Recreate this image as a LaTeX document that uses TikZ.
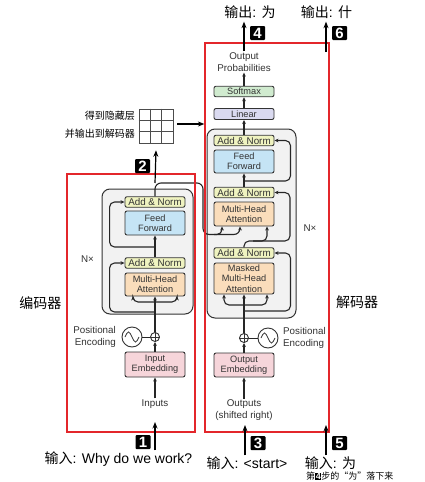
\documentclass[tikz,border=0pt]{standalone}
\usepackage{fontspec}
\setmainfont{Liberation Sans}
\newfontfamily\cjk{Noto Sans CJK SC}
\usetikzlibrary{arrows.meta}
\definecolor{addc}{HTML}{EFF3C0}
\definecolor{ffc}{HTML}{C5E4F5}
\definecolor{mhac}{HTML}{FADDBB}
\definecolor{embc}{HTML}{F6D5DA}
\definecolor{smc}{HTML}{D0EBCF}
\definecolor{linc}{HTML}{DADAF0}
\definecolor{grayc}{HTML}{F2F2F2}
\definecolor{redc}{HTML}{E3262B}
\definecolor{txt}{HTML}{333333}
\begin{document}
\begin{tikzpicture}[x=1pt,y=-1pt,
  blk/.style={draw=txt, line width=0.9pt, rounded corners=2pt, minimum width=60pt, inner sep=0pt, align=center, text=txt, font=\fontsize{9.2}{10.3}\selectfont},
  addn/.style={blk, fill=addc, minimum height=10.5pt, font=\fontsize{9.8}{10}\selectfont},
  gblk/.style={draw=black!80, fill=grayc, line width=1pt, rounded corners=8pt, inner sep=0pt},
  redbox/.style={draw=redc, line width=1.2pt, inner sep=0pt},
  ln/.style={draw=black!85, line width=1.1pt},
  arr/.style={ln, -{Stealth[length=4pt,width=3.6pt]}},
  rc/.style={rounded corners=5pt},
  big/.style={draw=black, line width=1.2pt, -{Stealth[length=6.5pt,width=5pt]}},
  badge/.style={fill=black, text=white, minimum width=15pt, minimum height=14pt, inner sep=0pt, rounded corners=1pt, font=\fontsize{15}{15}\selectfont\bfseries},
  lab/.style={inner sep=1pt, font=\fontsize{14}{14}\selectfont},
  sm/.style={text=txt, align=center, font=\fontsize{9.8}{12}\selectfont, inner sep=1pt},
  circ/.style={circle, draw=txt, line width=0.9pt, inner sep=0pt},
]
\useasboundingbox[fill=white] (0,0) rectangle (424,482);

% gray blocks
\node[gblk, minimum width=91pt, minimum height=125pt] (eBlk) at (147.5,251.5) {};
\node[gblk, minimum width=89pt, minimum height=189pt] (dBlk) at (251.5,223.5) {};

% encoder boxes
\node[addn] (eAN2) at (155,202) {Add \& Norm};
\node[blk, fill=ffc, minimum height=24pt] (eFF) at (155,223) {Feed\\Forward};
\node[addn] (eAN1) at (155,263) {Add \& Norm};
\node[blk, fill=mhac, minimum height=23pt] (eMHA) at (155,284.5) {Multi-Head\\Attention};
\node[blk, fill=embc, minimum height=25pt] (eEmb) at (155,364.5) {Input\\Embedding};
\node[circ, minimum size=9pt] (ePlus) at (155,337) {};
\draw[txt, line width=0.8pt] (ePlus.north) -- (ePlus.south) (ePlus.west) -- (ePlus.east);
\node[circ, minimum size=20pt] (eSin) at (132,337) {};
\draw[txt, line width=0.8pt] ([xshift=-7pt]eSin.center) sin ++(3.5,-5) cos ++(3.5,5) sin ++(3.5,5) cos ++(3.5,-5);
\draw[ln, line width=0.9pt] (eSin) -- (ePlus);
\node[sm, anchor=east, align=right] (ePE) at (117,337) {Positional\\Encoding};
\node[sm] (eIn) at (155,404) {Inputs};
\node[sm] (eN) at (87.5,259) {N×};

% decoder boxes
\node[addn] (dAN3) at (244,140.5) {Add \& Norm};
\node[blk, fill=ffc, minimum height=23pt] (dFF) at (244,161.5) {Feed\\Forward};
\node[addn] (dAN2) at (244,192.5) {Add \& Norm};
\node[blk, fill=mhac, minimum height=24pt] (dMHA) at (244,214) {Multi-Head\\Attention};
\node[addn] (dAN1) at (244,253) {Add \& Norm};
\node[blk, fill=mhac, minimum height=31pt] (dMMHA) at (244,278.5) {Masked\\Multi-Head\\Attention};
\node[blk, fill=embc, minimum height=24pt] (dEmb) at (244,365) {Output\\Embedding};
\node[blk, fill=linc, minimum height=11pt] (lin) at (244,114) {Linear};
\node[blk, fill=smc, minimum height=10.5pt] (soft) at (244,91.5) {Softmax};
\node[sm] (oProb) at (244,62) {Output\\Probabilities};
\node[circ, minimum size=9pt] (dPlus) at (244,338) {};
\draw[txt, line width=0.8pt] (dPlus.north) -- (dPlus.south) (dPlus.west) -- (dPlus.east);
\node[circ, minimum size=20pt] (dSin) at (268,338) {};
\draw[txt, line width=0.8pt] ([xshift=-7pt]dSin.center) sin ++(3.5,-5) cos ++(3.5,5) sin ++(3.5,5) cos ++(3.5,-5);
\draw[ln, line width=0.9pt] (dSin) -- (dPlus);
\node[sm, anchor=west, align=left] (dPE) at (282,338) {Positional\\Encoding};
\node[sm] (dOut) at (244,410.5) {Outputs\\(shifted right)};
\node[sm] (dN) at (310,228) {N×};

% encoder connectors
\draw[arr] (eIn) -- (eEmb);
\draw[arr] (eEmb) -- (ePlus);
\coordinate (eBar) at (155,302);
\draw[ln] (ePlus) -- (eBar);
\draw[arr] (eBar) -- (eMHA);
\draw[arr, rc] (eBar) -| ([xshift=-22pt]eMHA.south);
\draw[arr, rc] (eBar) -| ([xshift=22pt]eMHA.south);
\coordinate (eR1) at (155,312);
\draw[arr, rc] (eR1) -| ([xshift=-15pt]eAN1.west) -- (eAN1.west);
\draw[arr] (eAN1) -- (eFF);
\coordinate (eR2) at (155,247);
\draw[arr, rc] (eR2) -| ([xshift=-15pt]eAN2.west) -- (eAN2.west);
\coordinate (eTop) at (155,183);
\coordinate (eX) at (203,183);
\draw[arr, rounded corners=6pt] (eAN2.north) -- (eTop) -- (eX) |- ([xshift=-4pt,yshift=-8pt]dMHA.south) -- ([xshift=-4pt]dMHA.south);
\draw[arr, rc] ([xshift=-30pt,yshift=-8pt]dMHA.south) -| ([xshift=-22pt]dMHA.south);

% decoder connectors
\draw[arr] (dOut) -- (dEmb);
\draw[arr] (dEmb) -- (dPlus);
\coordinate (dBar) at (244,305);
\draw[ln] (dPlus) -- (dBar);
\draw[arr] (dBar) -- (dMMHA);
\draw[arr, rc] (dBar) -| ([xshift=-20pt]dMMHA.south);
\draw[arr, rc] (dBar) -| ([xshift=23pt]dMMHA.south);
\coordinate (dR1) at (244,311);
\draw[arr, rc] (dR1) -| ([xshift=16pt]dAN1.east) -- (dAN1.east);
\coordinate (dQ) at (290,241);
\draw[arr, rc] (dAN1.north) |- (dQ) |- (dAN2.east);
\draw[arr, rc] (253,241) -| ([xshift=23pt]dMHA.south);
\draw[arr] (dAN2) -- (dFF);
\coordinate (dR2) at (244,181);
\draw[arr, rc] (dR2) -| ([xshift=16pt]dAN3.east) -- (dAN3.east);
\draw[arr] (dAN3) -- (lin);
\draw[arr] (lin) -- (soft);
\draw[arr] (soft) -- (oProb);

% grid
\node[draw=black!70, line width=0.6pt, minimum size=34pt, inner sep=0pt] (grid) at (156,126) {};
\foreach \i in {1,2} {
  \draw[black!70, line width=0.6pt] ([xshift=\i*11.33pt]grid.north west) -- ([xshift=\i*11.33pt]grid.south west);
  \draw[black!70, line width=0.6pt] ([yshift=-\i*11.33pt]grid.north west) -- ([yshift=-\i*11.33pt]grid.north east);
}
\node[anchor=east, inner sep=0pt, font=\cjk\fontsize{10}{10}\selectfont] (g1) at (135,116) {得到隐藏层};
\node[anchor=east, inner sep=0pt, font=\cjk\fontsize{10}{10}\selectfont] (g2) at (135,134) {并输出到解码器};

% red boxes
\node[redbox, minimum width=128pt, minimum height=258pt] (encRed) at (131,303) {};
\node[redbox, minimum width=124pt, minimum height=389pt] (decRed) at (267,237.5) {};

\draw[big] ([xshift=4pt,yshift=2pt]grid.east) -- ([yshift=2pt]grid.east -| decRed.west);
\draw[big] (eTop) -- ([yshift=-7pt]grid.south);

% labels
\node[lab] (out1) at (250,12) {{\cjk 输出}: {\cjk 为}};
\node[lab] (out2) at (326.5,12) {{\cjk 输出}: {\cjk 什}};
\node[lab] (in1) at (118.5,459) {{\cjk 输入}: Why do we work?};
\node[lab] (in3) at (247,463) {{\cjk 输入}: <start>};
\node[lab] (in5) at (330.5,463) {{\cjk 输入}: {\cjk 为}};
\node[anchor=west, inner sep=0pt, font=\cjk\fontsize{9}{9}\selectfont] (note) at (306,476) {第{\fboxsep=0.6pt\colorbox{black}{\textcolor{white}{\rmfamily\bfseries 4}}}步的“为”落下来};
\node[lab] (encL) at (40.5,303) {\cjk 编码器};
\node[lab] (decL) at (357,302) {\cjk 解码器};

% big arrows
\draw[big] (oProb.north) -- ([yshift=-2pt]oProb.north |- out1.south);
\coordinate (a6) at (326,52);
\draw[big] (a6) -- ([yshift=-2pt]a6 |- out2.south);
\coordinate (a1) at (155,422);
\draw[big] (a1 |- in1.north) -- (a1);
\coordinate (a3) at (245,425);
\draw[big] (a3 |- in3.north) -- (a3);
\coordinate (a5) at (326,425);
\draw[big] (a5 |- in5.north) -- (a5);

% badges
\node[badge] (b1) at (143,442) {1};
\node[badge] (b2) at (142.5,166) {2};
\node[badge] (b3) at (258,443) {3};
\node[badge] (b4) at (257.5,33) {4};
\node[badge] (b5) at (339.5,443) {5};
\node[badge] (b6) at (339.5,33) {6};
\end{tikzpicture}
\end{document}
